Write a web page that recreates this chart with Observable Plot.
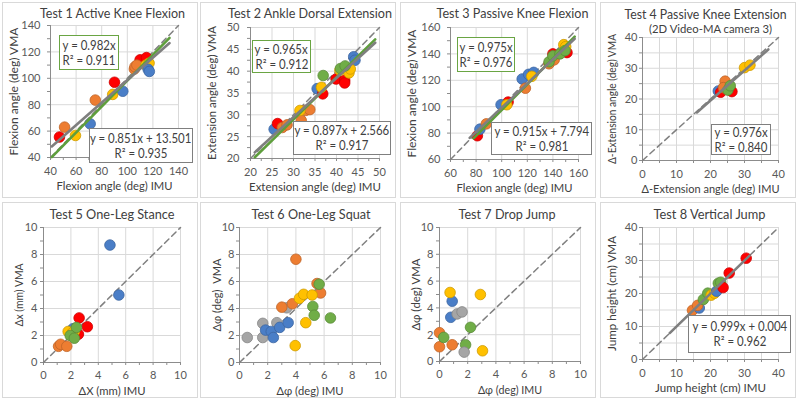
<!DOCTYPE html>
<html><head><meta charset="utf-8">
<script src="https://cdn.jsdelivr.net/npm/d3@7"></script>
<script src="https://cdn.jsdelivr.net/npm/@observablehq/plot@0.6"></script>
<style>
html,body{margin:0;padding:0;background:#fff;}
#root{position:relative;width:798px;height:401px;overflow:hidden;font-family:Lato,"Open Sans",sans-serif;}
.pbox{position:absolute;border:1px solid #d9d9d9;box-sizing:border-box;}
.eq{position:absolute;background:#fff;box-sizing:border-box;font-size:13px;color:#404040;line-height:15px;display:flex;flex-direction:column;justify-content:center;align-items:center;white-space:nowrap;}
.eq div{transform:scaleX(0.88);}
</style></head><body><div id="root"></div>
<script>
const COLORS = {blue:"#4A7EC7", orange:"#ED7D31", grey:"#A5A5A5", yellow:"#FFC000", green:"#70AD47", red:"#FF0000"};
const LINE_COLORS = {green:"#5E9E3C", grey:"#7F7F7F"};
const BOX_COLORS = {green:"#6AA543", grey:"#7F7F7F"};

const titles = ["Test 1 Active Knee Flexion","Test 2 Ankle Dorsal Extension","Test 3 Passive Knee Flexion","Test 4 Passive Knee Extension","Test 5 One-Leg Stance","Test 6 One-Leg Squat","Test 7 Drop Jump","Test 8 Vertical Jump"];
const subtitles = ["","","","(2D Video-MA camera 3)","","","",""];
const xLabels = ["Flexion angle (deg) IMU","Extension angle (deg) IMU","Flexion angle (deg) IMU","Δ-Extension angle (deg) IMU","ΔX (mm) IMU","Δφ (deg) IMU","Δφ (deg) IMU","Jump height (cm) IMU"];
const yLabels = ["Flexion angle (deg) VMA","Extension angle (deg) VMA","Flexion angle (deg) VMA","Δ-Extension angle (deg) VMA","Δx (mm) VMA","Δφ (deg)  VMA","Δφ (deg) VMA","Jump height (cm) VMA"];

const ticksT1 = [40,60,80,100,120,140];
const minorT1 = [40,50,60,70,80,90,100,110,120,130,140];
const ticksT2 = [20,25,30,35,40,45,50];
const minorT2 = [20,22.5,25,27.5,30,32.5,35,37.5,40,42.5,45,47.5,50];
const ticksT3 = [60,80,100,120,140,160];
const minorT3 = [60,70,80,90,100,110,120,130,140,150,160];
const ticks0_40 = [0,10,20,30,40];
const minor0_40 = [0,5,10,15,20,25,30,35,40];
const ticks0_10 = [0,2,4,6,8,10];
const minor0_10 = [0,1,2,3,4,5,6,7,8,9,10];

const test1Points = [
 [47,55.5,"red"],[90,97,"red"],[110,114,"red"],[115,115.7,"red"],
 [51,63,"orange"],[75,83.5,"orange"],[105.5,107,"orange"],[106,108.8,"orange"],[107.5,110,"orange"],
 [59.5,56.7,"yellow"],[88.6,87.8,"yellow"],[114.5,110,"yellow"],[117,111.5,"yellow"],
 [71,65.5,"blue"],[96.5,90.2,"blue"],[116.3,106.8,"blue"],[117.2,105.2,"blue"]
];
const test2Points = [
 [25.5,26.7,"blue"],[35.5,36,"blue"],[44,43.3,"blue"],[44.3,42.5,"blue"],
 [26.3,28,"red"],[36.8,34.8,"red"],[39.9,38.2,"red"],[41.9,37.9,"red"],[41.9,37.3,"red"],
 [27.4,27.1,"orange"],[28.5,27.7,"orange"],[31.8,28.7,"orange"],[32.8,31,"orange"],[33.8,31.2,"orange"],
 [31.5,31,"yellow"],[36.5,36.3,"yellow"],[40.8,40.2,"yellow"],[42.9,39.6,"yellow"],[43.2,40.5,"yellow"],
 [36.9,39,"green"],[40.9,40.6,"green"],[42,41.2,"green"]
];
const test3Points = [
 [81,78,"red"],[105,103.5,"red"],[140,140,"red"],[151,141,"red"],
 [83,83,"blue"],[99.5,101.5,"blue"],[116,121,"blue"],[121,124.5,"blue"],[125,126,"blue"],
 [88,87,"orange"],[118.5,114,"orange"],[137,132.5,"orange"],[141,135.5,"orange"],
 [104,101.5,"yellow"],[123.5,123,"yellow"],[148.5,147,"yellow"],[150,145.5,"yellow"],
 [137,134,"green"],[140,138.5,"green"],[145.5,140,"green"],[149.5,142.5,"green"]
];
const test4Points = [
 [22.3,22.6,"blue"],[24.5,24.3,"blue"],[23,22.2,"red"],[26.3,22.4,"red"],
 [24.3,25.8,"orange"],[23.8,23.7,"orange"],[25.1,22.9,"green"],[25.8,24.3,"green"],
 [30,30.2,"yellow"],[31.6,31,"yellow"]
];
const test5Points = [
 [4.85,8.7,"blue"],[5.5,5.0,"blue"],[2.15,2.5,"blue"],
 [2.6,3.3,"red"],[3.2,2.65,"red"],[2.55,2.1,"red"],
 [1.8,2.3,"yellow"],[2.25,2.3,"yellow"],[2.1,2.2,"yellow"],
 [2.4,2.6,"green"],[1.95,2.0,"green"],[2.25,1.8,"green"],
 [1.1,1.2,"orange"],[1.25,1.35,"orange"],[1.7,1.2,"orange"]
];
const test6Points = [
 [0.55,1.85,"grey"],[1.65,2.9,"grey"],[1.65,1.85,"grey"],[2.65,2.95,"grey"],[3.35,4.05,"grey"],
 [1.85,2.4,"blue"],[2.25,2.3,"blue"],[2.4,1.85,"blue"],[2.85,2.6,"blue"],[3.45,2.95,"blue"],
 [3.0,4.1,"orange"],[3.75,4.35,"orange"],[4.0,7.65,"orange"],[5.5,5.85,"orange"],[5.75,5.15,"orange"],
 [4.25,4.75,"yellow"],[4.55,5.05,"yellow"],[5.15,5.0,"yellow"],[4.7,2.95,"yellow"],[3.95,1.25,"yellow"],
 [5.65,5.8,"green"],[5.2,4.15,"green"],[5.3,3.5,"green"],[6.45,3.3,"green"]
];
const test7Points = [
 [0,2.15,"orange"],[0,1.1,"orange"],[0.9,1.25,"orange"],
 [0.3,1.8,"green"],[1.85,1.25,"green"],[2.2,2.55,"green"],
 [0.8,3.3,"blue"],[0.9,4.5,"blue"],
 [0.75,5.15,"yellow"],[2.9,5.0,"yellow"],[3.05,0.8,"yellow"],
 [1.25,3.55,"grey"],[1.6,3.7,"grey"],[1.75,0.7,"grey"]
];
const test8Points = [
 [14.7,14.9,"orange"],[16.7,15.6,"blue"],[16.2,16.4,"orange"],[17.9,18.2,"green"],[19.2,20.1,"green"],
 [20.2,19.5,"yellow"],[21.2,20.1,"yellow"],[21.8,20.7,"blue"],[22.3,23.1,"green"],[23,23.4,"green"],
 [23.7,21.8,"red"],[25.5,26.2,"red"],[30.5,30.7,"red"]
];

// [slope, intercept, xStart, xEnd, colour]
const test1Fits = [[0.982,0,41,133,"green"],[0.851,13.501,41,133,"grey"]];
const test2Fits = [[0.965,0,21,49,"green"],[0.897,2.566,21,49,"grey"]];
const test3Fits = [[0.975,0,78,157,"green"],[0.915,7.794,75,157,"grey"]];
const test4Fits = [[0.976,0,16,37,"grey"]];
const test8Fits = [[0.999,0.004,8,31.5,"grey"]];

const test1Labels = [["y = 0.982x","R² = 0.911","green"],["y = 0.851x + 13.501","R² = 0.935","grey"]];
const test2Labels = [["y = 0.965x","R² = 0.912","green"],["y = 0.897x + 2.566","R² = 0.917","grey"]];
const test3Labels = [["y = 0.975x","R² = 0.976","green"],["y = 0.915x + 7.794","R² = 0.981","grey"]];
const test4Labels = [["y = 0.976x","R² = 0.840","grey"]];
const test8Labels = [["y = 0.999x + 0.004","R² = 0.962","grey"]];

// text widths measured on the reference (px)
const titleWidths = [145,164,152,162,125,119,97,112];
const subtitleWidths = [0,0,0,123,0,0,0,0];
const xLabelWidths = [116,132,116,138,67,67,64,111];
const yLabelWidths = [128,134,128,130,63,73,72,115];

const panels = [
 {box:[2,2], plot:[50,178,25,157], xDom:[40,140], yDom:[40,140], xt:ticksT1, yt:ticksT1, xm:minorT1, ym:minorT1, gx:ticksT1, gy:ticksT1,
  pts:test1Points, fits:test1Fits, labels:test1Labels, eqPos:[[59,35,60,35],[89,128,104,35]], tdx:-2, tdy:-12, ypad:10, xpad:9, yldx:-36},
 {box:[200,2], plot:[250,379,27,158], xDom:[20,50], yDom:[20,50], xt:ticksT2, yt:ticksT2, xm:minorT2, ym:minorT2, gx:ticksT2, gy:ticksT2,
  pts:test2Points, fits:test2Fits, labels:test2Labels, eqPos:[[252,40,59,33],[293,121,98,34]], tdx:-5, tdy:-14, ypad:11, xpad:9, yldx:-38},
 {box:[400,2], plot:[450,578,27,159], xDom:[60,160], yDom:[60,160], xt:ticksT3, yt:ticksT3, xm:minorT3, ym:minorT3, gx:ticksT3, gy:ticksT3,
  pts:test3Points, fits:test3Fits, labels:test3Labels, eqPos:[[457,37,58,35],[491,122,101,33]], tdx:-2, tdy:-14, ypad:10, xpad:9, yldx:-38},
 {box:[600,2], plot:[642,778,37,160], xDom:[0,40], yDom:[0,40], xt:ticks0_40, yt:ticks0_40, xm:minor0_40, ym:minor0_40, gx:minor0_40, gy:minor0_40,
  pts:test4Points, fits:test4Fits, labels:test4Labels, eqPos:[[711,124,60,31]], tdx:-5, tdy:-23, ypad:5, xpad:9, yldx:-30},
 {box:[2,202], plot:[43,180,227,362], xDom:[0,10], yDom:[0,10], xt:ticks0_10, yt:ticks0_10, xm:minor0_10, ym:minor0_10, gx:ticks0_10, gy:ticks0_10,
  pts:test5Points, fits:[], labels:[], eqPos:[], tdx:0, tdy:-13, ypad:6, xpad:8, yldx:-24},
 {box:[200,202], plot:[239,380,227,362], xDom:[0,10], yDom:[0,10], xt:ticks0_10, yt:ticks0_10, xm:minor0_10, ym:minor0_10, gx:ticks0_10, gy:ticks0_10,
  pts:test6Points, fits:[], labels:[], eqPos:[], tdx:1, tdy:-13, ypad:5, xpad:8, yldx:-22},
 {box:[400,202], plot:[439,580,227,361], xDom:[0,10], yDom:[0,10], xt:ticks0_10, yt:ticks0_10, xm:minor0_10, ym:minor0_10, gx:ticks0_10, gy:ticks0_10,
  pts:test7Points, fits:[], labels:[], eqPos:[], tdx:-3, tdy:-13, ypad:6, xpad:8, yldx:-23},
 {box:[600,202], plot:[642,778,227,359], xDom:[0,40], yDom:[0,40], xt:ticks0_40, yt:ticks0_40, xm:minor0_40, ym:minor0_40, gx:minor0_40, gy:minor0_40,
  pts:test8Points, fits:test8Fits, labels:test8Labels, eqPos:[[688,315,103,38]], tdx:-1, tdy:-13, ypad:5, xpad:9, yldx:-30}
];

const root = document.getElementById("root");
const FONT = "Lato, 'Open Sans', sans-serif";
const W = 196, H = 196;
const CONDENSE = 0.92;

panels.forEach((p, i) => {
  const [bx, by] = p.box;
  const [px0, px1, py0, py1] = p.plot;
  const mL = px0 - bx, mR = bx + W - px1, mT = py0 - by, mB = by + H - py1;
  const fitData = p.fits.flatMap((f, k) => [
    {x: f[2], y: f[0]*f[2] + f[1], k, c: LINE_COLORS[f[4]]},
    {x: f[3], y: f[0]*f[3] + f[1], k, c: LINE_COLORS[f[4]]}
  ]);
  const axisStroke = "#8c8c8c";
  const txt = {textAnchor: "middle", lineAnchor: "middle", fill: "#404040"};
  const marks = [
    Plot.gridX(p.gx, {stroke: "#d9d9d9", strokeOpacity: 1}),
    Plot.gridY(p.gy, {stroke: "#d9d9d9", strokeOpacity: 1}),
    Plot.axisX(p.xm, {tickSize: 3, tickFormat: () => "", stroke: axisStroke, label: null}),
    Plot.axisY(p.ym, {tickSize: 3, tickFormat: () => "", stroke: axisStroke, label: null}),
    Plot.axisX(p.xt, {tickSize: 0, tickPadding: p.xpad, label: null, fill: "#595959", fontSize: 12}),
    Plot.axisY(p.yt, {tickSize: 0, tickPadding: p.ypad, label: null, fill: "#595959", fontSize: 12}),
    Plot.ruleX([p.xDom[0]], {stroke: axisStroke, strokeWidth: 1}),
    Plot.ruleY([p.yDom[0]], {stroke: axisStroke, strokeWidth: 1}),
    Plot.line(p.xDom, {x: d => d, y: d => d, stroke: "#808080", strokeWidth: 1.5, strokeDasharray: "6,4"}),
    Plot.dot(p.pts, {x: d => d[0], y: d => d[1], r: 5.3, fill: d => COLORS[d[2]],
      stroke: d => d3.color(COLORS[d[2]]).darker(0.6).formatHex(), strokeWidth: 0.8, fillOpacity: 1}),
    Plot.line(fitData, {x: "x", y: "y", z: "k", stroke: "c", strokeWidth: 2.6}),
    Plot.text([titles[i]], {...txt, frameAnchor: "top", dx: p.tdx, dy: p.tdy, fontSize: 13}),
    Plot.text([xLabels[i]], {...txt, frameAnchor: "bottom", dy: 28.5, fontSize: 12}),
    Plot.text([yLabels[i]], {...txt, frameAnchor: "left", dx: p.yldx, rotate: -90, fontSize: 12})
  ];
  if (subtitles[i]) marks.push(Plot.text([subtitles[i]], {...txt, frameAnchor: "top", dx: 0, dy: -8, fontSize: 12}));

  const chart = Plot.plot({
    width: W, height: H,
    marginLeft: mL, marginRight: mR, marginTop: mT, marginBottom: mB,
    x: {domain: p.xDom}, y: {domain: p.yDom},
    color: {type: "identity"},
    style: {fontFamily: FONT, fontSize: "12px", color: "#595959", background: "transparent", overflow: "visible"},
    marks
  });

  const border = document.createElement("div");
  border.className = "pbox";
  Object.assign(border.style, {left: bx + "px", top: by + "px", width: W + "px", height: H + "px"});
  root.appendChild(border);

  Object.assign(chart.style, {position: "absolute", left: bx + "px", top: by + "px", maxWidth: "none"});
  root.appendChild(chart);

  // condense Lato to the narrower proportions of the reference font
  const targets = new Map([[titles[i], titleWidths[i]], [xLabels[i], xLabelWidths[i]], [yLabels[i], yLabelWidths[i]]]);
  if (subtitles[i]) targets.set(subtitles[i], subtitleWidths[i]);
  chart.querySelectorAll("text").forEach(t => {
    const s = t.textContent;
    if (!s) return;
    const len = t.getComputedTextLength();
    const target = targets.has(s) ? targets.get(s) : len * CONDENSE;
    t.setAttribute("textLength", target);
    t.setAttribute("lengthAdjust", "spacingAndGlyphs");
  });

  p.labels.forEach((lab, j) => {
    const [ex, ey, ew, eh] = p.eqPos[j];
    const div = document.createElement("div");
    div.className = "eq";
    Object.assign(div.style, {left: ex + "px", top: ey + "px", width: ew + "px", height: eh + "px",
      border: "1.5px solid " + BOX_COLORS[lab[2]]});
    const l1 = document.createElement("div"); l1.textContent = lab[0];
    const l2 = document.createElement("div"); l2.textContent = lab[1];
    div.appendChild(l1); div.appendChild(l2);
    root.appendChild(div);
  });
});
</script></body></html>
